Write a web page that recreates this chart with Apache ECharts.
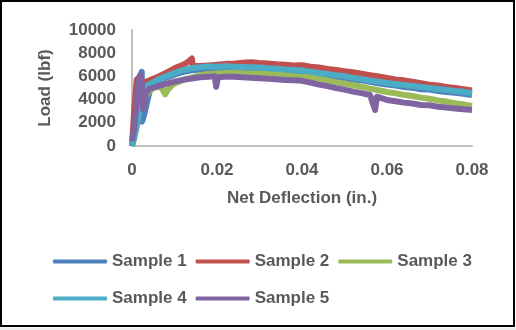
<!DOCTYPE html>
<html><head><meta charset="utf-8">
<script src="https://cdn.jsdelivr.net/npm/echarts@6/dist/echarts.min.js"></script>
<style>html,body{margin:0;padding:0;background:#fff}#c{width:516px;height:330px}</style>
</head><body><div id="c"></div>
<script>
const seriesNames = ['Sample 1','Sample 2','Sample 3','Sample 4','Sample 5'];
const xTicks = [0, 0.02, 0.04, 0.06, 0.08];
const yTicks = [0, 2000, 4000, 6000, 8000, 10000];

const s1x = [0,0.0005,0.001,0.0015,0.002,0.0023,0.00235,0.0028,0.0035,0.0042,0.005,0.006,0.008,0.010,0.012,0.014,0.016,0.018,0.020,0.022,0.024,0.026,0.028,0.030,0.032,0.034,0.036,0.038,0.040,0.042,0.044,0.046,0.048,0.050,0.052,0.054,0.056,0.058,0.060,0.062,0.064,0.066,0.068,0.070,0.072,0.074,0.076,0.078,0.080];
const s1y = [0,1500,3000,4500,6100,6400,2100,2600,3700,4800,5300,5600,5900,6150,6380,6520,6600,6680,6640,6660,6600,6630,6560,6520,6470,6460,6390,6360,6300,6210,6140,6060,5940,5860,5740,5660,5540,5410,5290,5210,5090,5010,4890,4860,4740,4660,4590,4510,4400];

const s2x = [0,0.0005,0.0011,0.0016,0.0022,0.003,0.004,0.006,0.008,0.010,0.012,0.013,0.0141,0.0143,0.016,0.018,0.020,0.022,0.024,0.026,0.028,0.030,0.032,0.034,0.036,0.038,0.040,0.042,0.044,0.046,0.048,0.050,0.052,0.054,0.056,0.058,0.060,0.062,0.064,0.066,0.068,0.070,0.072,0.074,0.076,0.078,0.080];
const s2y = [0,3000,5700,5900,5600,5500,5650,5950,6300,6700,7000,7200,7550,6900,6900,6950,7000,7080,7100,7180,7220,7160,7120,7040,7010,6940,6960,6840,6770,6640,6560,6440,6360,6240,6110,5990,5860,5740,5660,5540,5410,5290,5210,5090,5010,4890,4780];

const s3x = [0,0.0005,0.001,0.0015,0.002,0.003,0.004,0.005,0.006,0.007,0.0078,0.0085,0.010,0.012,0.014,0.016,0.018,0.020,0.022,0.024,0.026,0.028,0.030,0.032,0.034,0.036,0.038,0.040,0.042,0.044,0.046,0.048,0.050,0.052,0.054,0.056,0.058,0.060,0.062,0.064,0.066,0.068,0.070,0.072,0.074,0.076,0.078,0.080];
const s3y = [0,600,1500,2800,3500,4200,4700,5000,5100,5000,4450,4900,5400,5700,5900,6100,6200,6260,6290,6310,6270,6260,6240,6200,6160,6100,6010,5960,5940,5800,5660,5490,5390,5230,5110,4940,4810,4660,4550,4410,4310,4170,4070,3930,3830,3690,3590,3450];

const s4x = [0,0.001,0.002,0.0028,0.004,0.006,0.008,0.010,0.012,0.014,0.016,0.018,0.020,0.022,0.024,0.026,0.028,0.030,0.032,0.034,0.036,0.038,0.040,0.042,0.044,0.046,0.048,0.050,0.052,0.054,0.056,0.058,0.060,0.062,0.064,0.066,0.068,0.070,0.072,0.074,0.076,0.078,0.080];
const s4y = [0,1500,3500,5000,5300,5700,6000,6300,6550,6700,6800,6860,6840,6870,6840,6810,6790,6760,6700,6660,6590,6560,6500,6410,6290,6210,6090,6010,5870,5780,5640,5550,5430,5350,5250,5180,5080,5010,4910,4840,4740,4670,4570];

const s5x = [0,0.0005,0.001,0.0015,0.0019,0.0023,0.0026,0.0032,0.004,0.006,0.008,0.010,0.012,0.014,0.016,0.018,0.0195,0.0198,0.0202,0.022,0.024,0.026,0.028,0.030,0.032,0.034,0.036,0.038,0.040,0.042,0.044,0.046,0.048,0.050,0.052,0.054,0.056,0.0572,0.0576,0.058,0.060,0.062,0.064,0.066,0.068,0.070,0.072,0.074,0.076,0.078,0.080];
const s5y = [400,1500,3500,5500,6100,5500,3200,4500,4900,5150,5350,5550,5700,5820,5930,5980,6010,5100,5900,5980,5970,5930,5880,5840,5790,5760,5690,5660,5620,5460,5290,5160,4990,4860,4690,4560,4400,3100,4250,4150,3970,3860,3740,3660,3540,3510,3390,3310,3240,3160,3100];

const colors = ['#4F81BD','#C0504D','#9BBB59','#4BACC6','#8064A2'];
const xs = [s1x,s2x,s3x,s4x,s5x];
const ys = [s1y,s2y,s3y,s4y,s5y];

const FONT = 'Liberation Sans, Arial, sans-serif';
const TXT = '#595959';

const series = seriesNames.map((n,i)=>({
  name:n, type:'line', symbol:'none', smooth:false,
  data: xs[i].map((x,j)=>[x, ys[i][j]]),
  lineStyle:{width:6, color:colors[i], join:'round'},
  itemStyle:{color:colors[i]}
}));

const legendCommon = {
  left:48, itemWidth:54, itemHeight:4, itemGap:9, icon:'roundRect',
  textStyle:{color:TXT, fontFamily:FONT, fontWeight:'bold', fontSize:17}
};

const chart = echarts.init(document.getElementById('c'), null, {renderer:'canvas'});
chart.setOption({
  animation:false,
  backgroundColor:'#fff',
  grid:{left:132, right:44, top:30, bottom:184},
  xAxis:{type:'value', min:xTicks[0], max:xTicks[xTicks.length-1], interval:0.02,
    name:'Net Deflection (in.)', nameLocation:'middle', nameGap:44,
    nameTextStyle:{color:TXT, fontFamily:FONT, fontWeight:'bold', fontSize:17},
    axisLine:{show:true, lineStyle:{color:'#BFBFBF', width:2}},
    axisTick:{show:false}, splitLine:{show:false},
    axisLabel:{color:TXT, fontFamily:FONT, fontWeight:'bold', fontSize:17, margin:16,
      formatter:v=>String(+v.toFixed(2))}
  },
  yAxis:{type:'value', min:yTicks[0], max:yTicks[yTicks.length-1], interval:2000,
    name:'Load (lbf)', nameLocation:'middle', nameGap:78,
    nameTextStyle:{color:TXT, fontFamily:FONT, fontWeight:'bold', fontSize:17},
    axisLine:{show:true, lineStyle:{color:'#BFBFBF', width:2}},
    axisTick:{show:false}, splitLine:{show:false},
    axisLabel:{color:TXT, fontFamily:FONT, fontWeight:'bold', fontSize:17, margin:16,
      formatter:v=>String(v)}
  },
  legend:[
    Object.assign({data:seriesNames.slice(0,3), top:248}, legendCommon),
    Object.assign({data:seriesNames.slice(3), top:285}, legendCommon)
  ],
  graphic:[
    {type:'rect', shape:{x:1, y:1, width:513, height:325}, style:{fill:null, stroke:'#000', lineWidth:2}, silent:true},
    {type:'rect', shape:{x:0, y:327.5, width:516, height:3}, style:{fill:'#EDEDED'}, silent:true}
  ],
  series: series
});
</script></body></html>
